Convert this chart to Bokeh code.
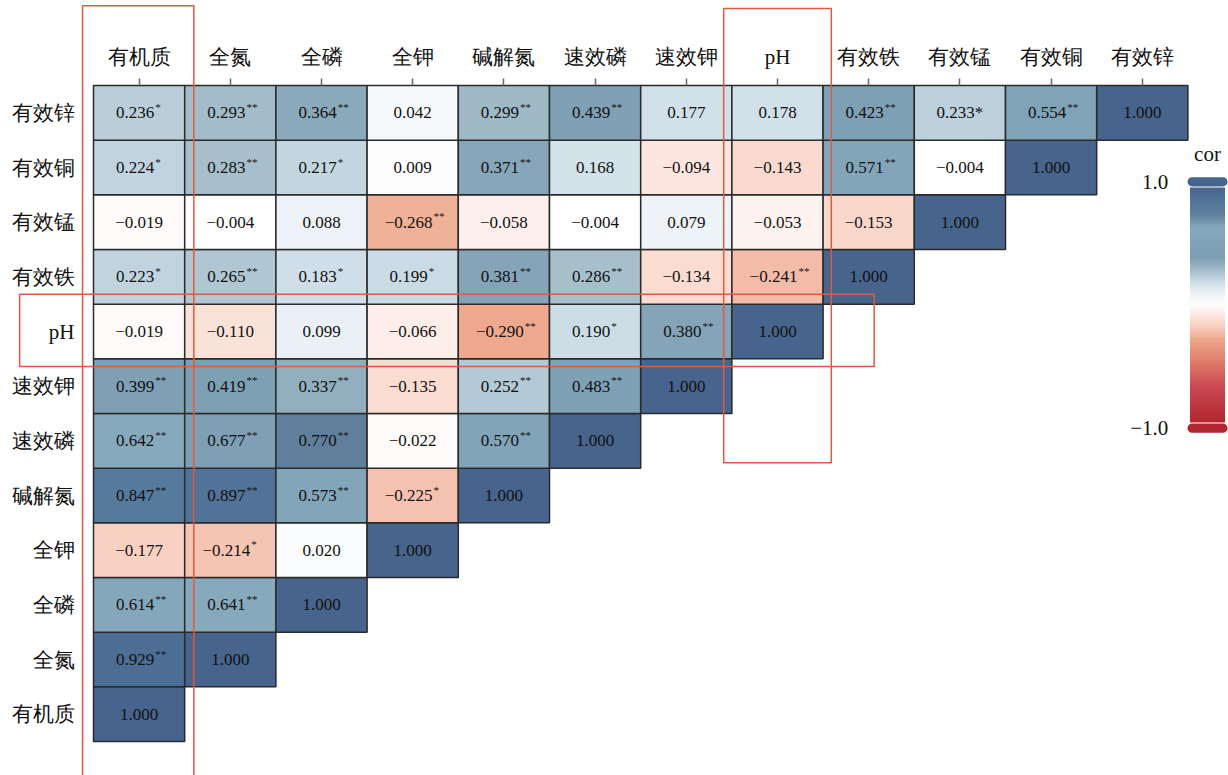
import numpy as np
from bokeh.plotting import figure
from bokeh.models import ColumnDataSource, Range1d, FixedTicker, BoxAnnotation, LinearColorMapper
from bokeh.transform import linear_cmap
from bokeh.core.properties import value
from bokeh.embed import file_html
from bokeh.resources import INLINE

# ---------------- data ----------------
variables = ["有机质", "全氮", "全磷", "全钾", "碱解氮", "速效磷", "速效钾",
             "pH", "有效铁", "有效锰", "有效铜", "有效锌"]

corr_rows = [
    [1.000],
    [0.929, 1.000],
    [0.614, 0.641, 1.000],
    [-0.177, -0.214, 0.020, 1.000],
    [0.847, 0.897, 0.573, -0.225, 1.000],
    [0.642, 0.677, 0.770, -0.022, 0.570, 1.000],
    [0.399, 0.419, 0.337, -0.135, 0.252, 0.483, 1.000],
    [-0.019, -0.110, 0.099, -0.066, -0.290, 0.190, 0.380, 1.000],
    [0.223, 0.265, 0.183, 0.199, 0.381, 0.286, -0.134, -0.241, 1.000],
    [-0.019, -0.004, 0.088, -0.268, -0.058, -0.004, 0.079, -0.053, -0.153, 1.000],
    [0.224, 0.283, 0.217, 0.009, 0.371, 0.168, -0.094, -0.143, 0.571, -0.004, 1.000],
    [0.236, 0.293, 0.364, 0.042, 0.299, 0.439, 0.177, 0.178, 0.423, 0.233, 0.554, 1.000],
]

# "*"/"**" = superscript marks, "*i" = full-size inline mark
sig_rows = [
    [""],
    ["**", ""],
    ["**", "**", ""],
    ["", "*", "", ""],
    ["**", "**", "**", "*", ""],
    ["**", "**", "**", "", "**", ""],
    ["**", "**", "**", "", "**", "**", ""],
    ["", "", "", "", "**", "*", "**", ""],
    ["*", "**", "*", "*", "**", "**", "", "**", ""],
    ["", "", "", "**", "", "", "", "", "", ""],
    ["*", "**", "*", "", "**", "", "", "", "**", "", ""],
    ["*", "**", "**", "", "**", "**", "", "", "**", "*i", "**", ""],
]

cb_labels = ["1.0", "\u22121.0"]
cb_title = "cor"

# ---------------- palette ----------------
stops = [(-1.0, "#B2262F"), (-0.7, "#CB4A52"), (-0.5, "#DE7A68"), (-0.3, "#EDA68B"),
         (-0.2, "#F7CBBB"), (-0.1, "#FCE6DE"), (0.0, "#FFFFFF"), (0.1, "#EAF1F6"),
         (0.2, "#CADBE5"), (0.3, "#A0BAC7"), (0.4, "#7E9FB4"), (0.55, "#80A3B8"),
         (0.65, "#87A9BC"), (0.77, "#5F7F9C"), (0.85, "#557A9C"), (1.0, "#46648C")]


def hex2rgb(h):
    return [int(h[i:i + 2], 16) for i in (1, 3, 5)]


sv = np.array([s[0] for s in stops])
sc = np.array([hex2rgb(s[1]) for s in stops], dtype=float)
grid_vals = np.linspace(-1, 1, 256)
palette = []
for g in grid_vals:
    rgb = [int(round(np.interp(g, sv, sc[:, k]))) for k in range(3)]
    palette.append("#%02x%02x%02x" % tuple(rgb))

mapper = LinearColorMapper(palette=palette, low=-1, high=1)

# ---------------- build sources ----------------
def fmt(v):
    return f"{v:.3f}".replace("-", "\u2212")


cx, cy, cr = [], [], []
plain = dict(x=[], y=[], t=[])
starred = dict(x=[], y=[], t=[], s=[], so=[])
for i, row in enumerate(corr_rows):
    for j, r in enumerate(row):
        cx.append(j); cy.append(i); cr.append(r)
        s = sig_rows[i][j]
        if s == "":
            plain["x"].append(j); plain["y"].append(i); plain["t"].append(fmt(r))
        elif s == "*i":
            plain["x"].append(j); plain["y"].append(i); plain["t"].append(fmt(r) + "*")
        else:
            w = 17 * (2.25 + (0.564 if r < 0 else 0))
            starred["x"].append(j); starred["y"].append(i)
            starred["t"].append(fmt(r)); starred["s"].append(s)
            starred["so"].append(-4 + w / 2 + 1)

cells = ColumnDataSource(dict(x=cx, y=cy, r=cr))
src_plain = ColumnDataSource(plain)
src_star = ColumnDataSource(starred)

# ---------------- figure ----------------
W, H = 1228, 775
n = len(variables)
grid_left_px, grid_top_px = 93, 85
ux, uy = 91.2, 54.67          # pixels per cell
x0 = -0.5 - grid_left_px / ux
y1 = (n - 0.5) + grid_top_px / uy
p = figure(width=W, height=H, output_backend="svg", toolbar_location=None,
           x_axis_location="above",
           x_range=Range1d(x0, x0 + W / ux),
           y_range=Range1d(y1 - H / uy, y1),
           min_border=0, min_border_left=0, min_border_right=0,
           min_border_top=0, min_border_bottom=0)
p.outline_line_color = None
p.xgrid.visible = False
p.ygrid.visible = False

ticks = list(range(n))
overrides = {i: v for i, v in enumerate(variables)}
ax = p.xaxis[0]
ax.fixed_location = n - 0.5
ax.ticker = FixedTicker(ticks=ticks)
ax.major_label_overrides = overrides
ax.axis_line_color = None
ax.minor_tick_line_color = None
ax.major_tick_in = 0
ax.major_tick_out = 7
ax.major_tick_line_color = "#666666"
ax.major_tick_line_width = 1.5
ax.major_label_standoff = 10
ax.major_label_text_font = "Liberation Serif"
ax.major_label_text_font_size = "21px"
ax.major_label_text_color = "#111111"

ay = p.yaxis[0]
ay.fixed_location = -0.5
ay.ticker = FixedTicker(ticks=ticks)
ay.major_label_overrides = overrides
ay.axis_line_color = None
ay.minor_tick_line_color = None
ay.major_tick_line_color = None
ay.major_tick_in = 0
ay.major_tick_out = 0
ay.major_label_standoff = 19
ay.major_label_text_font = "Liberation Serif"
ay.major_label_text_font_size = "21px"
ay.major_label_text_color = "#111111"

# cells
p.rect(x="x", y="y", width=1, height=1, source=cells,
       fill_color=linear_cmap("r", palette, -1, 1),
       line_color="#2a2a2a", line_width=1.5)

num_font = value("Liberation Serif")
p.text(x="x", y="y", text="t", source=src_plain, text_align="center",
       text_baseline="middle", text_font=num_font, text_font_size="17px",
       text_color="#111111")
p.text(x="x", y="y", text="t", source=src_star, text_align="center",
       text_baseline="middle", text_font=num_font, text_font_size="17px",
       text_color="#111111", x_offset=-4)
p.text(x="x", y="y", text="s", source=src_star, text_align="left",
       text_baseline="middle", text_font=num_font, text_font_size="11px",
       text_color="#111111", x_offset="so", y_offset=-6)

# ---------------- colour bar (drawn manually) ----------------
cb_xc = 11.715
bar_w = 0.384
cap_w = 0.439
bar_bottom = 5.336
bar_top = 9.634
cap_h = 0.17
gap = 0.02
grad = grid_vals.reshape(-1, 1)
p.image(image=[grad], x=cb_xc - bar_w / 2, y=bar_bottom, dw=bar_w,
        dh=bar_top - bar_bottom, color_mapper=mapper)
p.rect(x=[cb_xc, cb_xc], y=[bar_top + gap + cap_h / 2, bar_bottom - gap - cap_h / 2],
       width=cap_w, height=cap_h, fill_color=[palette[-1], palette[0]],
       line_color=None, border_radius=5)
p.text(x=[cb_xc - cap_w / 2 - 0.21] * 2,
       y=[bar_top + gap + cap_h / 2, bar_bottom - gap - cap_h / 2],
       text=cb_labels, text_align="right", text_baseline="middle",
       text_font=num_font, text_font_size="21px", text_color="#111111")
p.text(x=[cb_xc], y=[bar_top + 0.62], text=[cb_title], text_align="center",
       text_baseline="middle", text_font=num_font, text_font_size="21px",
       text_color="#111111")

# ---------------- highlight boxes ----------------
red = "#E05A40"
i_om = variables.index("有机质")
i_ph = variables.index("pH")
boxes = [
    dict(left=i_om - 0.62, right=i_om + 0.60, top=12.96, bottom=-1.5),
    dict(left=i_ph - 0.59, right=i_ph + 0.59, top=12.91, bottom=4.6),
    dict(left=-1.31, right=8.06, top=i_ph + 0.68, bottom=i_ph - 0.64),
]
for b in boxes:
    p.add_layout(BoxAnnotation(fill_alpha=0, line_color=red, line_alpha=1.0,
                               line_width=1.5, **b))

open("out.html", "w").write(file_html(p, INLINE))
